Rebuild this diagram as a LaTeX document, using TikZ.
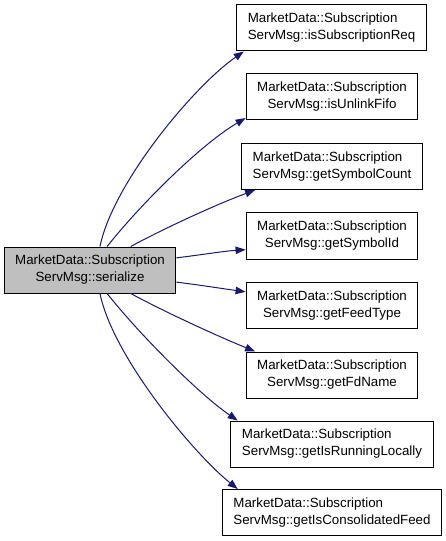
\documentclass[tikz,border=0pt]{standalone}
\usepackage{fontspec}
\setmainfont{Liberation Sans}
\usetikzlibrary{arrows.meta}
\definecolor{midnight}{HTML}{191970}
\definecolor{callergray}{HTML}{BFBFBF}
\tikzset{
  fnbox/.style={draw=black, line width=0.75pt, inner xsep=8.3pt, inner ysep=0pt,
    minimum height=34.5pt, font=\fontsize{10}{12.75}\selectfont},
  callarrow/.style={midnight, line width=0.75pt, -{Triangle[length=7.5pt,width=5.6pt]}}
}
\begin{document}
\begin{tikzpicture}[x=0.75pt,y=-0.75pt]
    \useasboundingbox (0,0) rectangle (445,541);

    \node[fnbox, fill=callergray, align=center] (serialize) at (90,270) {MarketData::Subscription\\ServMsg::serialize};

    \node[fnbox, align=left] (isreq) at (331.5,28) {MarketData::Subscription\\ServMsg::isSubscriptionReq};
    \node[fnbox, align=center] (unlink) at (332,96.5) {MarketData::Subscription\\ServMsg::isUnlinkFifo};
    \node[fnbox, align=left] (symcount) at (332,166.5) {MarketData::Subscription\\ServMsg::getSymbolCount};
    \node[fnbox, align=center] (symid) at (332,236) {MarketData::Subscription\\ServMsg::getSymbolId};
    \node[fnbox, align=center] (feedtype) at (332,305.5) {MarketData::Subscription\\ServMsg::getFeedType};
    \node[fnbox, align=center] (fdname) at (332,375) {MarketData::Subscription\\ServMsg::getFdName};
    \node[fnbox, align=left] (runlocal) at (332,444) {MarketData::Subscription\\ServMsg::getIsRunningLocally};
    \node[fnbox, align=left] (consfeed) at (332,512.5) {MarketData::Subscription\\ServMsg::getIsConsolidatedFeed};

    \draw[callarrow] (serialize.67) .. controls (113,183) and (194,86) .. (isreq.195);
    \draw[callarrow] (serialize.54) .. controls (140,205) and (200,145) .. (unlink.194);
    \draw[callarrow] (serialize.30) .. controls (165,228) and (215,205) .. (symcount.197);
    \draw[callarrow] (serialize.8) .. controls (200,255) and (225,251) .. (symid.189);
    \draw[callarrow] (serialize.352) .. controls (200,285) and (225,289) .. (feedtype.171);
    \draw[callarrow] (serialize.330) .. controls (165,312) and (215,335) .. (fdname.163);
    \draw[callarrow] (serialize.306) .. controls (140,335) and (200,395) .. (runlocal.166);
    \draw[callarrow] (serialize.293) .. controls (113,357) and (194,454) .. (consfeed.166);
\end{tikzpicture}
\end{document}
